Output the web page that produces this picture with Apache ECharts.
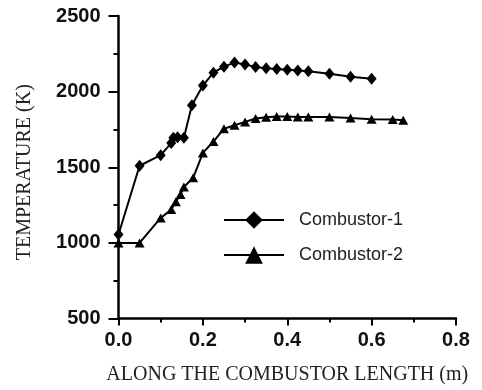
<!DOCTYPE html>
<html>
<head>
<meta charset="utf-8">
<script src="https://cdn.jsdelivr.net/npm/echarts@6/dist/echarts.min.js"></script>
<style>
  html, body { margin: 0; padding: 0; background: #fff; }
  #chart { width: 482px; height: 390px; }
</style>
</head>
<body>
<div id="chart"></div>
<script>
// values
const c1X = [0, 0.05, 0.1, 0.125, 0.13, 0.14, 0.155, 0.174, 0.2, 0.225, 0.25, 0.275, 0.3, 0.325, 0.35, 0.375, 0.4, 0.425, 0.45, 0.5, 0.55, 0.6];
const c1Y = [1055, 1510, 1580, 1660, 1695, 1698, 1695, 1910, 2040, 2125, 2165, 2192, 2180, 2162, 2155, 2150, 2145, 2140, 2135, 2118, 2098, 2085];

const c2X = [0, 0.05, 0.1, 0.125, 0.136, 0.147, 0.155, 0.177, 0.2, 0.225, 0.25, 0.275, 0.3, 0.325, 0.35, 0.375, 0.4, 0.425, 0.45, 0.5, 0.55, 0.6, 0.65, 0.675];
const c2Y = [1000, 1000, 1165, 1220, 1272, 1320, 1370, 1430, 1595, 1670, 1755, 1778, 1800, 1822, 1830, 1835, 1835, 1833, 1833, 1833, 1825, 1818, 1815, 1810];

const seriesNames = ['Combustor-1', 'Combustor-2'];
const xTitle = 'ALONG THE COMBUSTOR LENGTH (m)';
const yTitle = 'TEMPERATURE (K)';

const zip = (xs, ys) => xs.map((x, i) => [x, ys[i]]);

const chart = echarts.init(document.getElementById('chart'));

const tickLabel = { color: '#111', fontFamily: 'Liberation Sans, Arial, sans-serif', fontWeight: 'bold', fontSize: 20 };
const titleText = { color: '#222', fontFamily: 'Liberation Serif, Times New Roman, serif', fontSize: 20 };

const option = {
  animation: false,
  grid: { left: 118.5, right: 26, top: 16, bottom: 71.5 },
  legend: {
    orient: 'vertical',
    left: 218,
    top: 206,
    itemWidth: 60,
    itemHeight: 22,
    itemGap: 17,
    textStyle: { color: '#222', fontFamily: 'Liberation Sans, Arial, sans-serif', fontSize: 18, padding: [0, 0, 0, 10] },
    data: seriesNames
  },
  xAxis: {
    type: 'value',
    min: 0,
    max: 0.8,
    interval: 0.2,
    name: xTitle,
    nameLocation: 'middle',
    nameGap: 46,
    nameTextStyle: titleText,
    axisLine: { onZero: false, lineStyle: { color: '#000', width: 2.5 } },
    axisTick: { length: 7, lineStyle: { color: '#000', width: 2 } },
    minorTick: { show: true, splitNumber: 2, length: 4, lineStyle: { color: '#000', width: 2 } },
    axisLabel: Object.assign({ margin: 12, formatter: v => v.toFixed(1) }, tickLabel),
    splitLine: { show: false }
  },
  yAxis: {
    type: 'value',
    min: 500,
    max: 2500,
    interval: 500,
    name: yTitle,
    nameLocation: 'middle',
    nameGap: 84,
    nameTextStyle: Object.assign({ padding: [0, 10, 0, 0] }, titleText),
    axisLine: { show: true, onZero: false, lineStyle: { color: '#000', width: 2.5 } },
    axisTick: { show: true, length: 10, lineStyle: { color: '#000', width: 2 } },
    minorTick: { show: true, splitNumber: 2, length: 5, lineStyle: { color: '#000', width: 2 } },
    axisLabel: Object.assign({ margin: 18, formatter: v => String(v) }, tickLabel),
    splitLine: { show: false }
  },
  series: [
    {
      name: seriesNames[0],
      type: 'line',
      data: zip(c1X, c1Y),
      symbol: 'diamond',
      symbolSize: [10, 12],
      color: '#000',
      itemStyle: { color: '#000' },
      lineStyle: { color: '#000', width: 2 }
    },
    {
      name: seriesNames[1],
      type: 'line',
      data: zip(c2X, c2Y),
      symbol: 'triangle',
      symbolSize: [10, 9],
      color: '#000',
      itemStyle: { color: '#000' },
      lineStyle: { color: '#000', width: 2 }
    }
  ]
};

chart.setOption(option);
window.addEventListener('resize', () => chart.resize());
</script>
</body>
</html>
